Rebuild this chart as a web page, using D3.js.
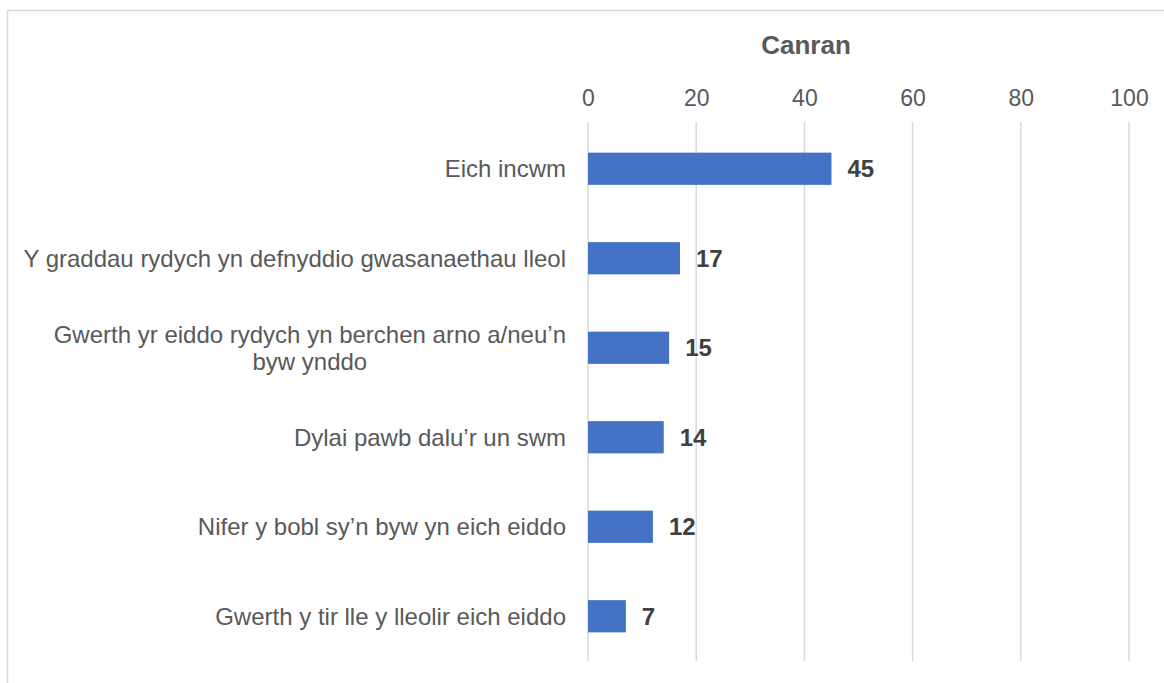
<!DOCTYPE html>
<html><head><meta charset="utf-8">
<script src="https://cdn.jsdelivr.net/npm/d3@7"></script>
<style>
html,body{margin:0;padding:0;background:#fff;}
svg{display:block;font-family:Arial,"Liberation Sans",sans-serif;}
</style></head>
<body>
<svg id="chart" width="1164" height="683"></svg>
<script>
const categories = [
  ["Eich incwm"],
  ["Y graddau rydych yn defnyddio gwasanaethau lleol"],
  ["Gwerth yr eiddo rydych yn berchen arno a/neu\u2019n", "byw ynddo"],
  ["Dylai pawb dalu\u2019r un swm"],
  ["Nifer y bobl sy\u2019n byw yn eich eiddo"],
  ["Gwerth y tir lle y lleolir eich eiddo"]
];
const values = [45, 17, 15, 14, 12, 7];
const tickValues = [0, 20, 40, 60, 80, 100];
const axisTitle = "Canran";

const svg = d3.select("#chart");

// chart frame
svg.append("rect").attr("x", 7.5).attr("y", 10.5).attr("width", 1200).attr("height", 700)
  .attr("fill", "none").attr("stroke", "#d9d9d9").attr("stroke-width", 1.5);

const x = d3.scaleLinear().domain([0, 100]).range([588, 1129]);
const y = d3.scaleBand().domain(d3.range(categories.length)).range([124, 661]).paddingInner(0.64).paddingOuter(0.32);

// gridlines
svg.append("g").selectAll("line").data(tickValues).join("line")
  .attr("x1", d => x(d)).attr("x2", d => x(d))
  .attr("y1", 122).attr("y2", 661)
  .attr("stroke", "#d9d9d9").attr("stroke-width", 1.5);

// top axis labels
const axis = d3.axisTop(x).tickValues(tickValues).tickSize(0).tickPadding(0);
const ag = svg.append("g").attr("transform", "translate(0,106)").call(axis);
ag.select(".domain").remove();
ag.selectAll("text").attr("font-size", 23).attr("fill", "#595959")
  .attr("font-family", "Arial, 'Liberation Sans', sans-serif");

svg.append("text").attr("x", 806).attr("y", 54).attr("text-anchor", "middle")
  .attr("font-size", 26).attr("font-weight", "bold").attr("fill", "#595959").text(axisTitle);

// bars
svg.append("g").selectAll("rect").data(values).join("rect")
  .attr("x", x(0)).attr("y", (d, i) => y(i))
  .attr("width", d => x(d) - x(0)).attr("height", y.bandwidth())
  .attr("fill", "#4472C4");

// value labels
svg.append("g").selectAll("text").data(values).join("text")
  .attr("x", d => x(d) + 16).attr("y", (d, i) => y(i) + y.bandwidth() / 2)
  .attr("dy", "0.36em").attr("font-size", 24).attr("font-weight", "bold")
  .attr("fill", "#404040").text(d => d);

// category labels
const lg = svg.append("g");
categories.forEach((lines, i) => {
  const cy = y(i) + y.bandwidth() / 2;
  const lh = 27;
  const t = lg.append("text").attr("font-size", 24).attr("fill", "#595959");
  if (lines.length === 1) {
    t.attr("x", 566).attr("y", cy).attr("dy", "0.36em").attr("text-anchor", "end").text(lines[0]);
  } else {
    const n = lines.length;
    t.attr("text-anchor", "middle");
    lines.forEach((ln, k) => {
      t.append("tspan").attr("y", cy + (k - (n - 1) / 2) * lh).attr("dy", "0.36em").text(ln);
    });
    const widths = [];
    t.selectAll("tspan").each(function() { widths.push(this.getComputedTextLength()); });
    const w = d3.max(widths);
    t.selectAll("tspan").attr("x", 566 - w / 2);
  }
});
</script>
</body></html>
